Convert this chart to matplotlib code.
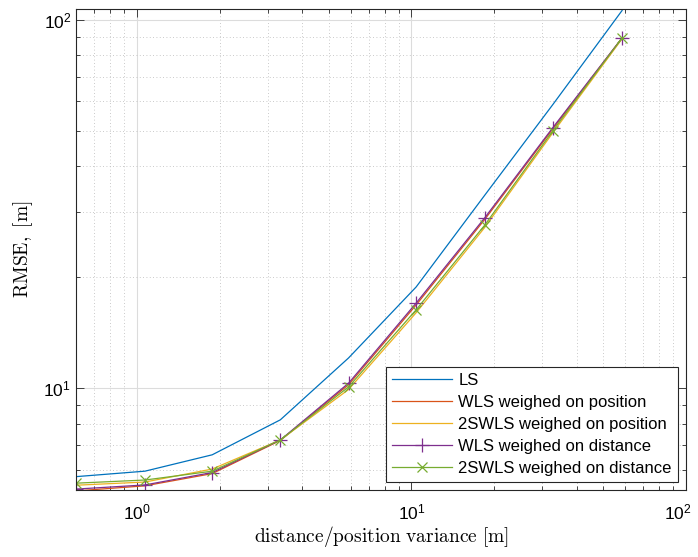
import numpy as np
import matplotlib.pyplot as plt
import matplotlib.transforms as mtransforms
from matplotlib.ticker import LogLocator, NullFormatter

plt.rcParams['mathtext.fontset'] = 'cm'
plt.rcParams['font.family'] = ['Liberation Sans', 'DejaVu Sans']

# distance/position variance [m]
variance = [0.6, 1.07, 1.88, 3.33, 5.9, 10.4, 18.5, 32.7, 58.5]

rmse_ls = [5.74, 5.94, 6.58, 8.19, 12.06, 18.8, 33.4, 58.8, 106.0]
rmse_wls_pos = [5.25, 5.42, 5.85, 7.2, 10.2, 16.8, 28.7, 50.5, 89.3]
rmse_2swls_pos = [5.44, 5.55, 6.02, 7.22, 9.9, 16.0, 27.3, 49.3, 88.8]
rmse_wls_dist = [5.31, 5.45, 5.89, 7.22, 10.3, 17.0, 29.0, 50.9, 89.3]
rmse_2swls_dist = [5.51, 5.62, 5.94, 7.22, 10.06, 16.3, 27.7, 49.9, 89.3]

labels = ['LS', 'WLS weighed on position', '2SWLS weighed on position',
          'WLS weighed on distance', '2SWLS weighed on distance']

fig = plt.figure(figsize=(6.98, 5.57), dpi=100)
ax = fig.add_axes([76/698, 1-490/557, (686-76)/698, (490-9)/557])

ax.loglog(variance, rmse_ls, color='#0072BD', lw=0.9, label=labels[0])
ax.loglog(variance, rmse_wls_pos, color='#D95319', lw=0.9, label=labels[1])
ax.loglog(variance, rmse_2swls_pos, color='#EDB120', lw=0.9, label=labels[2])
ax.loglog(variance, rmse_wls_dist, color='#7E2F8E', lw=0.9, marker='+', ms=10, mew=0.9, label=labels[3])
ax.loglog(variance, rmse_2swls_dist, color='#77AC30', lw=0.9, marker='x', ms=7, mew=0.9, label=labels[4])

ax.set_xlim(0.6, 100)
ax.set_ylim(5.28, 107)

ax.xaxis.set_minor_locator(LogLocator(base=10, subs=np.arange(2, 10)))
ax.yaxis.set_minor_locator(LogLocator(base=10, subs=np.arange(2, 10)))
ax.xaxis.set_minor_formatter(NullFormatter())
ax.yaxis.set_minor_formatter(NullFormatter())

ax.grid(True, which='major', color='#dcdcdc', lw=0.8)
ax.grid(True, which='minor', color='#b8b8b8', lw=0.6, ls=(0, (1, 3)))
ax.set_axisbelow(True)

ax.tick_params(which='both', direction='in', top=True, right=True, labelsize=12.5, color='#262626')
ax.tick_params(axis='x', which='major', pad=9)
ax.tick_params(which='major', length=6, width=0.6)
ax.tick_params(which='minor', length=3, width=0.6)
for s in ax.spines.values():
    s.set_linewidth(0.8)
    s.set_color('#262626')

ax.set_xlabel(r'$\mathrm{distance/position\ variance\ [m]}$', fontsize=14, labelpad=1)
ax.set_ylabel(r'$\mathrm{RMSE,\ [m]}$', fontsize=14, labelpad=6)

# keep the 10^2 label inside the figure
fig.canvas.draw()
shift = mtransforms.ScaledTranslation(-8/100, 0, fig.dpi_scale_trans)
for lbl in ax.get_xticklabels():
    if lbl.get_position()[0] >= 99:
        lbl.set_transform(lbl.get_transform() + shift)

leg = ax.legend(loc='lower right', fontsize=12, fancybox=False, edgecolor='#262626',
                framealpha=1, handlelength=3.6, borderaxespad=0.5, labelspacing=0.42,
                handletextpad=0.4, borderpad=0.35)
leg.get_frame().set_linewidth(0.8)

fig.savefig('out.png', dpi=100)
